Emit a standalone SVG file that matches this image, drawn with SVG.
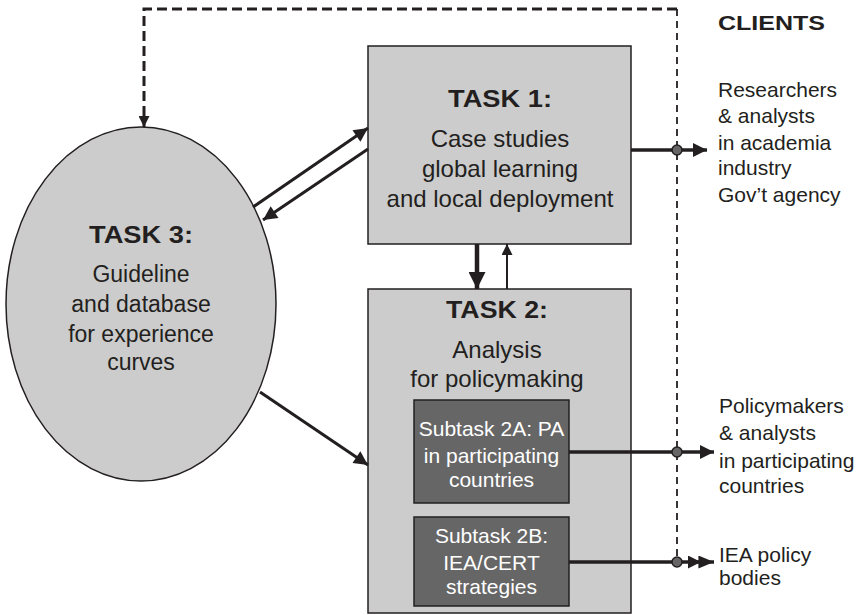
<svg xmlns="http://www.w3.org/2000/svg" width="863" height="615" viewBox="0 0 863 615">
<style>
text{font-family:"Liberation Sans",Arial,sans-serif;fill:#231f20}
.b{font-weight:bold}
.box{fill:#cccccc;stroke:#231f20;stroke-width:1.5}
.sub{fill:#666666;stroke:#231f20;stroke-width:1.5}
.w{fill:#ffffff}
.c{text-anchor:middle}
.ln{stroke:#231f20;fill:none}
.dot{fill:#666666;stroke:#231f20;stroke-width:1.5}
</style>
<defs>
<marker id="ah" viewBox="0 0 10 10" refX="10" refY="5" markerWidth="16" markerHeight="14" markerUnits="userSpaceOnUse" orient="auto"><path d="M0,0L10,5L0,10z" fill="#231f20"/></marker>
<marker id="ahL" viewBox="0 0 10 10" refX="10" refY="5" markerWidth="17" markerHeight="17" markerUnits="userSpaceOnUse" orient="auto"><path d="M0,0L10,5L0,10z" fill="#231f20"/></marker>
<marker id="ahS" viewBox="0 0 10 10" refX="10" refY="5" markerWidth="12" markerHeight="11" markerUnits="userSpaceOnUse" orient="auto"><path d="M0,0L10,5L0,10z" fill="#231f20"/></marker>
<marker id="ahD" viewBox="0 0 20 10" refX="20" refY="5" markerWidth="26" markerHeight="13" markerUnits="userSpaceOnUse" orient="auto"><path d="M0,0L10,5L0,10zM8,0L20,5L8,10z" fill="#231f20"/></marker>
</defs>

<g id="task3">
<ellipse class="box" cx="141" cy="304" rx="135" ry="177"/>
<text class="c b" x="141" y="243" font-size="23" textLength="104" lengthAdjust="spacingAndGlyphs">TASK 3:</text>
<text class="c" x="141" y="282" font-size="23">Guideline</text>
<text class="c" x="141" y="312" font-size="23">and database</text>
<text class="c" x="141" y="342" font-size="23">for experience</text>
<text class="c" x="141" y="370" font-size="23">curves</text>
</g>

<g id="task1">
<rect class="box" x="368" y="46" width="263" height="198"/>
<text class="c b" x="500" y="107" font-size="23" textLength="104" lengthAdjust="spacingAndGlyphs">TASK 1:</text>
<text class="c" x="500" y="147" font-size="24">Case studies</text>
<text class="c" x="500" y="177" font-size="24">global learning</text>
<text class="c" x="500" y="207" font-size="24">and local deployment</text>
</g>

<g id="task2">
<rect class="box" x="368" y="289" width="263" height="324"/>
<text class="c b" x="497" y="318" font-size="23" textLength="102" lengthAdjust="spacingAndGlyphs">TASK 2:</text>
<text class="c" x="497" y="358" font-size="24">Analysis</text>
<text class="c" x="497" y="387" font-size="24">for policymaking</text>
</g>

<g id="subtask2a">
<rect class="sub" x="414" y="400" width="155" height="103"/>
<text class="c w" x="491.5" y="436" font-size="21">Subtask 2A: PA</text>
<text class="c w" x="491.5" y="463" font-size="21">in participating</text>
<text class="c w" x="491.5" y="487" font-size="21">countries</text>
</g>

<g id="subtask2b">
<rect class="sub" x="414" y="517" width="155" height="89"/>
<text class="c w" x="491.5" y="543" font-size="21">Subtask 2B:</text>
<text class="c w" x="491.5" y="570" font-size="21">IEA/CERT</text>
<text class="c w" x="491.5" y="594" font-size="21">strategies</text>
</g>

<g id="clients">
<text class="b" x="718" y="30" font-size="21" textLength="107" lengthAdjust="spacingAndGlyphs">CLIENTS</text>
</g>

<g id="client1">
<text x="718" y="97" font-size="21">Researchers</text>
<text x="718" y="123" font-size="21">&amp; analysts</text>
<text x="718" y="150" font-size="21">in academia</text>
<text x="718" y="175" font-size="21">industry</text>
<text x="718" y="202" font-size="21">Gov’t agency</text>
</g>

<g id="client2">
<text x="719" y="413" font-size="21">Policymakers</text>
<text x="719" y="440" font-size="21">&amp; analysts</text>
<text x="719" y="468" font-size="21">in participating</text>
<text x="719" y="493" font-size="21">countries</text>
</g>

<g id="client3">
<text x="719" y="562" font-size="21">IEA policy</text>
<text x="719" y="585" font-size="21">bodies</text>
</g>

<g id="connectors">
<path class="ln" d="M677,9H144V127" stroke-width="3" stroke-dasharray="10,5" marker-end="url(#ahS)"/>
<path class="ln" d="M677,9V556" stroke-width="1.8" stroke-dasharray="7,5"/>
<path class="ln" d="M253,207L368,128" stroke-width="3" marker-end="url(#ah)"/>
<path class="ln" d="M368,149L263,220" stroke-width="3" marker-end="url(#ah)"/>
<path class="ln" d="M260,392L368,465" stroke-width="3" marker-end="url(#ah)"/>
<path class="ln" d="M477,244V289" stroke-width="4.5" marker-end="url(#ahL)"/>
<path class="ln" d="M507,289V244" stroke-width="2" marker-end="url(#ahS)"/>
<path class="ln" d="M631,150H707" stroke-width="3.5" marker-end="url(#ah)"/>
<path class="ln" d="M569,452H714" stroke-width="3.5" marker-end="url(#ah)"/>
<path class="ln" d="M569,562H714" stroke-width="3.5" marker-end="url(#ahD)"/>
<circle class="dot" cx="677" cy="150" r="5"/>
<circle class="dot" cx="677" cy="452" r="5"/>
<circle class="dot" cx="677" cy="562" r="5"/>
</g>
</svg>
